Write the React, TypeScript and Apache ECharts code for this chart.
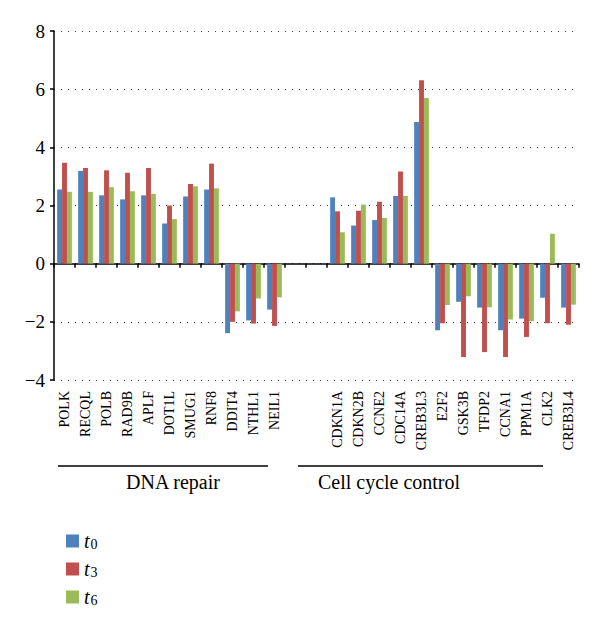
import React, { useEffect, useRef } from "react";
import * as echarts from "echarts";

const categories = [
  "POLK", "RECQL", "POLB", "RAD9B", "APLF", "DOT1L", "SMUG1", "RNF8", "DDIT4", "NTHL1", "NEIL1",
  "", " ",
  "CDKN1A", "CDKN2B", "CCNE2", "CDC14A", "CREB3L3", "E2F2", "GSK3B", "TFDP2", "CCNA1", "PPM1A", "CLK2", "CREB3L4",
];

const t0 = [
  2.55, 3.19, 2.35, 2.21, 2.35, 1.38, 2.31, 2.55, -2.39, -1.95, -1.58,
  null, null,
  2.28, 1.31, 1.5, 2.33, 4.87, -2.29, -1.31, -1.51, -2.29, -1.89, -1.17, -1.51,
];
const t3 = [
  3.47, 3.29, 3.21, 3.13, 3.29, 2.0, 2.74, 3.44, -2.0, -2.06, -2.14,
  null, null,
  1.8, 1.82, 2.13, 3.17, 6.31, -2.05, -3.21, -3.04, -3.21, -2.52, -2.05, -2.1,
];
const t6 = [
  2.47, 2.47, 2.63, 2.49, 2.4, 1.53, 2.66, 2.59, -1.64, -1.2, -1.16,
  null, null,
  1.08, 2.03, 1.57, 2.33, 5.7, -1.42, -1.12, -1.5, -1.92, -1.98, 1.03, -1.41,
];

const seriesNames = ["t0", "t3", "t6"];
const colors = ["#4F81BD", "#C0504D", "#9BBB59"];
const groups = ["DNA repair", "Cell cycle control"];

const FONT = "serif";

export default function App() {
  const ref = useRef<HTMLDivElement>(null);
  useEffect(() => {
    if (!ref.current) return;
    const chart = echarts.init(ref.current, undefined, { renderer: "svg" });
    const data = [t0, t3, t6];
    chart.setOption({
      animation: false,
      backgroundColor: "#ffffff",
      textStyle: { fontFamily: FONT, color: "#000" },
      grid: { left: 54, right: 21, top: 31, bottom: 251, containLabel: false },
      legend: {
        orient: "vertical",
        left: 61,
        top: 526,
        itemWidth: 13,
        itemHeight: 13,
        itemGap: 8,
        icon: "rect",
        data: seriesNames,
        formatter: (name: string) => `{t|t}{s|${name.slice(1)}}`,
        textStyle: {
          fontFamily: FONT,
          color: "#000",
          rich: {
            t: { fontFamily: FONT, fontStyle: "italic", fontSize: 20, lineHeight: 20, color: "#000" },
            s: { fontFamily: FONT, fontSize: 14, lineHeight: 14, color: "#000", padding: [6, 0, 0, 1] },
          },
        },
      },
      xAxis: [
        {
          type: "category",
          data: categories,
          axisLine: { onZero: true, lineStyle: { color: "#000", width: 1.5 } },
          axisTick: { show: true, interval: 0, length: 4, lineStyle: { color: "#000", width: 1.5 } },
          axisLabel: { show: false },
          splitLine: { show: false },
        },
        {
          type: "category",
          data: categories,
          position: "bottom",
          axisLine: { show: false, onZero: false },
          axisTick: { show: false },
          axisLabel: {
            interval: 0,
            rotate: 90,
            margin: 11,
            fontFamily: FONT,
            fontSize: 14,
            color: "#000",
          },
          splitLine: { show: false },
        },
      ],
      yAxis: {
        type: "value",
        min: -4,
        max: 8,
        interval: 2,
        axisLine: { show: true, lineStyle: { color: "#000", width: 1.5 } },
        axisTick: { show: true, length: 4, lineStyle: { color: "#000", width: 1.5 } },
        axisLabel: {
          fontFamily: FONT,
          fontSize: 19,
          color: "#000",
          margin: 9,
          formatter: (v: number) => String(v).replace("-", "\u2212"),
        },
        splitLine: { show: true, lineStyle: { color: "#444", width: 1, type: [1, 6] } },
      },
      series: seriesNames.map((n, i) => ({
        name: n,
        type: "bar",
        xAxisIndex: 0,
        data: data[i],
        barGap: "0%",
        barCategoryGap: "30%",
        itemStyle: { color: colors[i] },
      })),
      graphic: [
        { type: "line", shape: { x1: 58, y1: 466, x2: 268, y2: 466 }, style: { stroke: "#000", lineWidth: 1.5 } },
        { type: "line", shape: { x1: 298, y1: 466, x2: 543, y2: 466 }, style: { stroke: "#000", lineWidth: 1.5 } },
        {
          type: "text",
          x: 173,
          y: 482,
          style: { text: groups[0], fontFamily: FONT, fontSize: 20, fill: "#000", align: "center", verticalAlign: "middle" },
        },
        {
          type: "text",
          x: 389,
          y: 482,
          style: { text: groups[1], fontFamily: FONT, fontSize: 20, fill: "#000", align: "center", verticalAlign: "middle" },
        },
      ],
    });
    return () => chart.dispose();
  }, []);
  return <div ref={ref} style={{ width: 600, height: 631, position: "absolute", left: 0, top: 0 }} />;
}
